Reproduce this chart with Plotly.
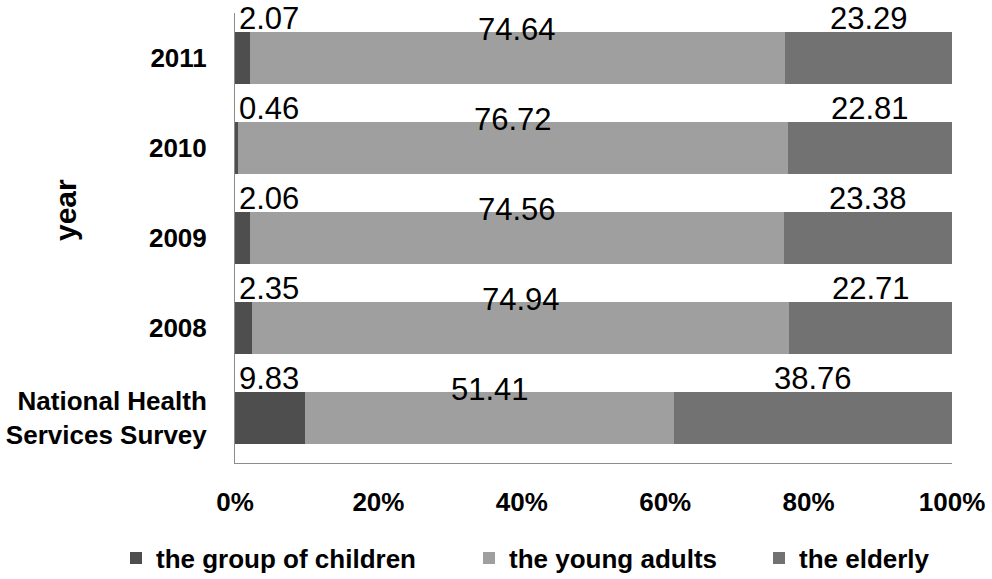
import plotly.graph_objects as go

# ---- data ----
categories = ["2011", "2010", "2009", "2008", "National Health Services Survey"]
children = [2.07, 0.46, 2.06, 2.35, 9.83]
young_adults = [74.64, 76.72, 74.56, 74.94, 51.41]
elderly = [23.29, 22.81, 23.38, 22.71, 38.76]
series_names = ["the group of children", "the young adults", "the elderly"]
x_ticks = [0, 20, 40, 60, 80, 100]
x_tick_labels = ["0%", "20%", "40%", "60%", "80%", "100%"]

# ---- styles ----
FONT = "Arial, Liberation Sans, sans-serif"
colors = ["#4e4e4e", "#9f9f9f", "#727272"]
W, H = 992, 579
ML, MR, MT, MB = 235, 40, 13, 116
PW, PH = W - ML - MR, H - MT - MB

fig = go.Figure()
series = [children, young_adults, elderly]
legend_ids = ["legend", "legend2", "legend3"]
for name, vals, col, lg in zip(series_names, series, colors, legend_ids):
    fig.add_trace(go.Bar(
        y=categories, x=vals, name=name, orientation="h",
        marker=dict(color=col, line=dict(width=0)),
        width=0.58, legend=lg, hoverinfo="x+y+name",
    ))

# data labels (y given as category index)
label_font = dict(family=FONT, size=31, color="black")
for i, cat in enumerate(categories):
    c, y_, e = children[i], young_adults[i], elderly[i]
    fig.add_annotation(x=0, y=i, text=f"{c:.2f}", showarrow=False,
                       xanchor="left", yanchor="middle", xshift=2, yshift=40,
                       font=label_font)
    fig.add_annotation(x=c + y_ / 2, y=i, text=f"{y_:.2f}", showarrow=False,
                       xanchor="center", yanchor="middle", yshift=29,
                       font=label_font)
    fig.add_annotation(x=c + y_ + e / 2, y=i, text=f"{e:.2f}", showarrow=False,
                       xanchor="center", yanchor="middle", yshift=40,
                       font=label_font)

# axis title "year"
fig.add_annotation(xref="paper", yref="paper", x=(65 - ML) / PW, y=(H - MB - 210) / PH,
                   text="year", textangle=-90, showarrow=False,
                   xanchor="center", yanchor="middle",
                   font=dict(family=FONT, size=30, color="black", weight="bold"))

tick_text = [c.replace("National Health ", "National Health<br>") for c in categories]

fig.update_layout(
    width=W, height=H,
    margin=dict(l=ML, r=MR, t=MT, b=MB, autoexpand=False),
    barmode="stack",
    plot_bgcolor="white", paper_bgcolor="white",
    xaxis=dict(range=[0, 100], tickvals=x_ticks, ticktext=x_tick_labels,
               showgrid=False, zeroline=False, showline=True,
               linecolor="#8c8c8c", linewidth=1, ticks="",
               ticklabelstandoff=16, automargin=False,
               tickfont=dict(family=FONT, size=26, color="black", weight="bold")),
    yaxis=dict(type="category", range=[4.5, -0.5],
               tickvals=list(range(len(categories))), ticktext=tick_text,
               showgrid=False, zeroline=False, showline=True,
               linecolor="#8c8c8c", linewidth=1, ticks="",
               ticklabelstandoff=22, automargin=False,
               tickfont=dict(family=FONT, size=26, color="black", weight="bold")),
    showlegend=True,
)

legend_font = dict(family=FONT, size=26, color="black", weight="bold")
legend_text_x = [156, 509, 799]
for lg, tx in zip(legend_ids, legend_text_x):
    fig.update_layout(**{lg: dict(
        orientation="h", x=(tx - 40 - ML) / PW, xanchor="left",
        y=(H - MB - 558) / PH, yanchor="middle",
        font=legend_font, bgcolor="rgba(0,0,0,0)", borderwidth=0,
    )})

fig.write_html("out.html", config={"displayModeBar": False},
               post_script="document.body.style.margin='0';document.body.style.overflow='hidden';")
